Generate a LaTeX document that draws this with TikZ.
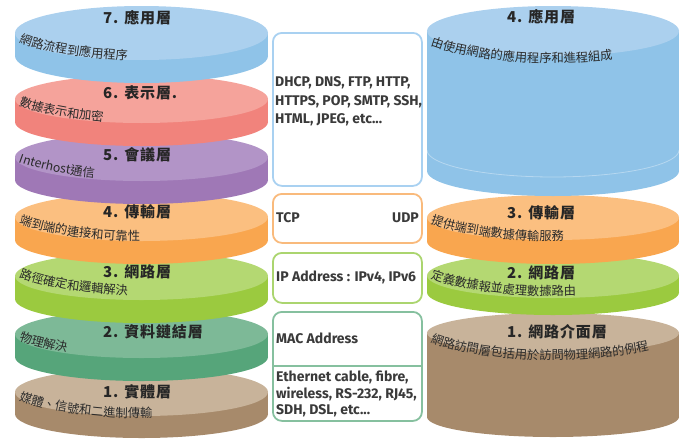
\documentclass[tikz,border=0pt]{standalone}
\usepackage{fontspec}
\setmainfont{Fira Sans}
\newfontfamily\cjk{Noto Sans CJK TC}
\newfontfamily\cjktitle[LetterSpace=6]{Noto Sans CJK TC}
\newfontfamily\boxf{Fira Sans}
\usetikzlibrary{decorations.text}
\definecolor{bTop}{HTML}{ABD0EE}
\definecolor{bSide}{HTML}{8FC3E8}
\definecolor{rTop}{HTML}{F5A39B}
\definecolor{rSide}{HTML}{F1837C}
\definecolor{pTop}{HTML}{B294C7}
\definecolor{pSide}{HTML}{9F78B6}
\definecolor{oTop}{HTML}{FBBF80}
\definecolor{oSide}{HTML}{F9A64F}
\definecolor{gTop}{HTML}{B4D872}
\definecolor{gSide}{HTML}{9BCA3F}
\definecolor{tTop}{HTML}{7DB997}
\definecolor{tSide}{HTML}{56A57A}
\definecolor{nTop}{HTML}{C8B39A}
\definecolor{nSide}{HTML}{A78A6B}
\definecolor{boxblue}{HTML}{A9D1F1}
\definecolor{boxorange}{HTML}{F9BA7C}
\definecolor{boxgreen}{HTML}{ABD56F}
\definecolor{boxteal}{HTML}{86C09F}
\definecolor{txtgray}{HTML}{3A3A3A}
\definecolor{titlegray}{HTML}{262626}
\definecolor{descgray}{HTML}{2A2A2A}
\newcommand{\descfont}{\cjk\fontsize{12.3}{13}\selectfont}
% cx, cy, rx, ry, h, top colour, side colour
\newcommand{\drawdisk}[7]{%
  \fill[#7] (#1,#2+#5) ellipse [x radius=#3pt, y radius=#4pt];
  \fill[#7] (#1-#3,#2) rectangle (#1+#3,#2+#5);
  \fill[#6] (#1,#2) ellipse [x radius=#3pt, y radius=#4pt];
}
% cx, start baseline y, text
\newcommand{\desctext}[3]{%
  \path[decorate, decoration={text along path, text color=descgray,
      text={|\descfont|#3}}]
    plot[domain=220:340, samples=60, variable=\t]
      ({#1+160*cos(\t)},{#2-32.1-50*sin(\t)});
}
\tikzset{
  titletext/.style={anchor=west, inner sep=0pt, text=titlegray,
    font=\cjktitle\bfseries\fontsize{15}{17}\selectfont},
  midbox/.style={draw, line width=1.8pt, rounded corners=9pt, fill=white,
    inner sep=0pt, anchor=north west},
  boxtext/.style={inner sep=0pt, text=txtgray, align=left,
    font=\boxf\bfseries\fontsize{14}{18.5}\selectfont},
}
\begin{document}
\begin{tikzpicture}[x=1pt,y=-1pt]
\useasboundingbox (0,0) rectangle (687,439);
% ---------- left stack ----------
\drawdisk{141.5}{392}{126.5}{24}{22}{nTop}{nSide}
\node[titletext] (l1) at (103,392) {1. 實體層};
\desctext{141.5}{400}{媒體、信號和二進制傳輸}
\drawdisk{141.5}{334}{126.5}{24}{23}{tTop}{tSide}
\node[titletext] (l2) at (103,332) {2. 資料鏈結層};
\desctext{141.5}{340}{物理解決}
\drawdisk{141.5}{276}{126.5}{24}{23}{gTop}{gSide}
\node[titletext] (l3) at (103,272) {3. 網路層};
\desctext{141.5}{277}{路徑確定和邏輯解決}
\drawdisk{141.5}{217}{126.5}{24}{23}{oTop}{oSide}
\node[titletext] (l4) at (103,212) {4. 傳輸層};
\desctext{141.5}{223}{端到端的連接和可靠性}
\drawdisk{141.5}{157}{126.5}{24}{23}{pTop}{pSide}
\node[titletext] (l5) at (103,155) {5. 會議層};
\desctext{141.5}{162}{Interhost通信}
\drawdisk{141.5}{99}{126.5}{24}{23}{rTop}{rSide}
\node[titletext] (l6) at (103,93) {6. 表示層.};
\desctext{141.5}{105}{數據表示和加密}
\drawdisk{141.5}{33}{126.5}{27}{23}{bTop}{bSide}
\node[titletext] (l7) at (103,18) {7. 應用層};
\desctext{141.5}{42}{網路流程到應用程序}
% ---------- right stack ----------
\drawdisk{553}{333}{126}{20}{84}{nTop}{nSide}
\node[titletext] (r1) at (507,332) {1. 網路介面層};
\desctext{553}{342}{網路訪問層包括用於訪問物理網路的例程}
\drawdisk{553}{275.5}{126}{22.5}{17}{gTop}{gSide}
\node[titletext] (r2) at (507,273) {2. 網路層};
\desctext{553}{278}{定義數據報並處理數據路由}
\drawdisk{553}{217.5}{126}{22.5}{24}{oTop}{oSide}
\node[titletext] (r3) at (507,213) {3. 傳輸層};
\desctext{553}{223}{提供端到端數據傳輸服務}
\drawdisk{553}{31}{126}{25}{140}{bTop}{bSide}
\draw[white, opacity=0.35, line width=0.8pt]
  plot[domain=180:360, samples=60, variable=\t] ({553+126*cos(\t)},{150-27*sin(\t)});
\node[titletext] (r4) at (507,17) {4. 應用層};
\desctext{553}{45}{由使用網路的應用程序和進程組成}
% ---------- middle boxes ----------
\node[midbox, draw=boxblue, minimum width=149pt, minimum height=153pt] (appbox) at (272,32) {};
\node[boxtext, anchor=west] (apptxt) at (275,101.5) {DHCP, DNS, FTP, HTTP,\\HTTPS, POP, SMTP, SSH,\\HTML, JPEG, etc...};
\node[midbox, draw=boxorange, minimum width=149pt, minimum height=49pt] (tbox) at (272,193) {};
\node[boxtext, anchor=west] (tcp) at (276,218) {TCP};
\node[boxtext, anchor=east] (udp) at (419,218) {UDP};
\node[midbox, draw=boxgreen, minimum width=149pt, minimum height=50pt] (nbox) at (272,252) {};
\node[boxtext, anchor=west] (ip) at (276,277) {IP Address : IPv4, IPv6};
\node[midbox, draw=boxteal, minimum width=149pt, minimum height=109pt] (lbox) at (272,311) {};
\coordinate (dl) at (272,366);
\coordinate (dr) at (421,366);
\draw[boxteal, line width=1.8pt] (dl) -- (dr);
\node[boxtext, anchor=west] (mac) at (276,338) {MAC Address};
\node[boxtext, anchor=west, font=\boxf\bfseries\fontsize{14}{16.5}\selectfont] (phy) at (276,394) {Ethernet cable, fibre,\\wireless, RS-232, RJ45,\\SDH, DSL, etc...};
\end{tikzpicture}
\end{document}
